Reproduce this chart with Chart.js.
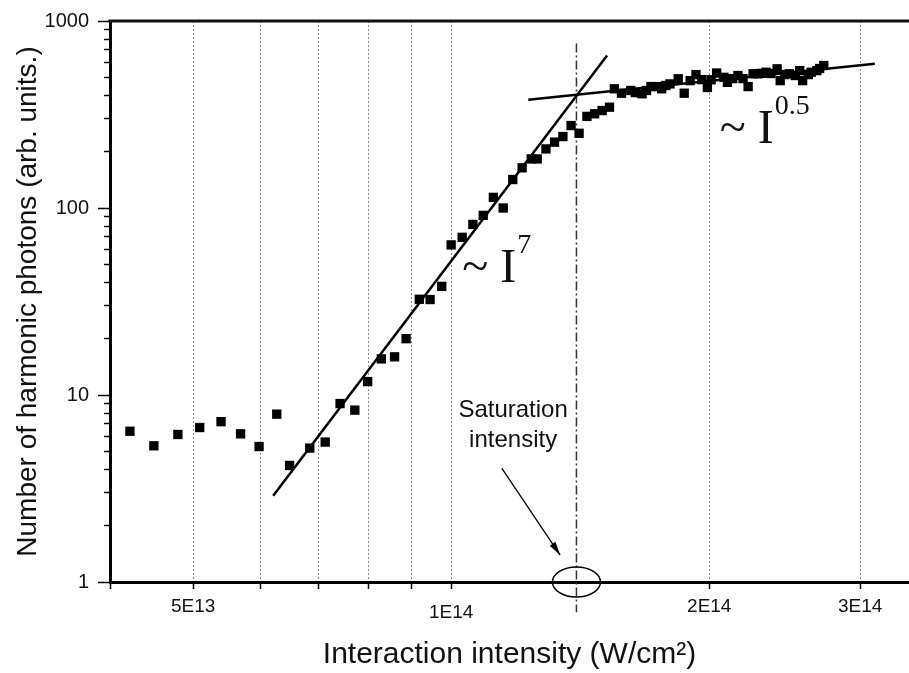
<!DOCTYPE html>
<html><head><meta charset="utf-8">
<script src="https://cdn.jsdelivr.net/npm/chart.js@4.4.1/dist/chart.umd.min.js"></script>
<style>html,body{margin:0;padding:0;background:#fff;overflow:hidden}</style>
</head><body>
<canvas id="c" width="909" height="673" style="display:block;width:909px;height:673px"></canvas>
<script>
// ---- data ----
const intensity = [4.22e13, 4.50e13, 4.80e13, 5.09e13, 5.39e13, 5.68e13, 5.97e13, 6.26e13, 6.48e13, 6.84e13,
  7.13e13, 7.42e13, 7.72e13, 7.99e13, 8.29e13, 8.59e13, 8.86e13, 9.18e13, 9.45e13, 9.75e13,
  1.00e14, 1.03e14, 1.06e14, 1.09e14, 1.12e14, 1.15e14, 1.18e14, 1.21e14, 1.24e14, 1.26e14,
  1.29e14, 1.32e14, 1.35e14, 1.38e14, 1.41e14, 1.44e14, 1.47e14, 1.50e14, 1.53e14, 1.55e14,
  1.58e14, 1.62e14, 1.64e14, 1.67e14, 1.69e14, 1.71e14, 1.74e14, 1.76e14, 1.78e14, 1.80e14,
  1.84e14, 1.87e14, 1.90e14, 1.93e14, 1.96e14, 1.99e14, 2.01e14, 2.04e14, 2.08e14, 2.10e14,
  2.13e14, 2.16e14, 2.19e14, 2.22e14, 2.25e14, 2.28e14, 2.30e14, 2.33e14, 2.36e14, 2.40e14,
  2.42e14, 2.45e14, 2.48e14, 2.52e14, 2.55e14, 2.57e14, 2.61e14, 2.63e14, 2.67e14, 2.69e14,
  2.72e14];
const photons = [6.4, 5.35, 6.15, 6.7, 7.2, 6.2, 5.3, 7.9, 4.2, 5.2,
  5.6, 9.0, 8.3, 11.8, 15.6, 16.0, 20.0, 32.5, 32.4, 38.1,
  63.5, 69.7, 81.7, 91.3, 114, 100, 142, 164, 183, 183,
  207, 225, 241, 276, 251, 309, 319, 332, 346, 434,
  411, 425, 414, 408, 425, 446, 446, 434, 452, 461,
  491, 411, 480, 517, 486, 441, 485, 527, 500, 470,
  492, 511, 492, 446, 522, 522, 525, 532, 524, 555,
  480, 517, 522, 511, 543, 480, 517, 532, 543, 557,
  578];

// power-law guide lines (~I^7 and ~I^0.5)
const fit7X = [6.20e13, 1.52e14];
const fit7Y = [2.89, 654];
const fit05X = [1.23e14, 3.12e14];
const fit05Y = [379, 590];

// saturation intensity marker
const satX = 1.4e14;
const satY = [757, 0.69];
const arrowFromX = 1.146e14, arrowFromY = 4.05;
const arrowToX = 1.340e14, arrowToY = 1.394;
const satLabelX = 1.181e14;
const satLabelY = [8.3, 5.74];
const satLabel = ['Saturation', 'intensity'];

// power-law labels (anchor = baseline-left of "I")
const law7At = [1.141e14, 40.1];
const law05At = [2.279e14, 224];

// axes
const xTickValues = [4e13, 5e13, 6e13, 7e13, 8e13, 9e13, 1e14, 2e14, 3e14];
const xTickLabels = {5e13: '5E13', 1e14: '1E14', 2e14: '2E14', 3e14: '3E14'};
const yMajorTicks = [1, 10, 100, 1000];
const yMinorTicks = [2,3,4,5,6,7,8,9,20,30,40,50,60,70,80,90,200,300,400,500,600,700,800,900];
const xTitle = 'Interaction intensity (W/cm²)';
const yTitle = 'Number of harmonic photons (arb. units.)';

const SANS = '"Liberation Sans", Arial, sans-serif';
const SERIF = '"Liberation Serif", "Times New Roman", serif';

const annot = {
  id: 'annot',
  afterDatasetsDraw(chart) {
    const {ctx, chartArea: ca, scales: {x, y}} = chart;
    ctx.save();
    // top frame line
    ctx.strokeStyle = '#111'; ctx.lineWidth = 3;
    ctx.beginPath(); ctx.moveTo(ca.left - 1.5, ca.top); ctx.lineTo(ca.right, ca.top); ctx.stroke();
    // ellipse around saturation intensity on the axis
    const ex = x.getPixelForValue(satX), ey = y.getPixelForValue(1);
    ctx.lineWidth = 1.5; ctx.strokeStyle = '#000';
    ctx.beginPath(); ctx.ellipse(ex, ey, 24, 15, 0, 0, Math.PI * 2); ctx.stroke();
    // arrow
    const ax0 = x.getPixelForValue(arrowFromX), ay0 = y.getPixelForValue(arrowFromY);
    const ax1 = x.getPixelForValue(arrowToX), ay1 = y.getPixelForValue(arrowToY);
    ctx.lineWidth = 1.3;
    ctx.beginPath(); ctx.moveTo(ax0, ay0); ctx.lineTo(ax1, ay1); ctx.stroke();
    const ang = Math.atan2(ay1 - ay0, ax1 - ax0);
    ctx.beginPath();
    ctx.moveTo(ax1, ay1);
    ctx.lineTo(ax1 - 14 * Math.cos(ang - 0.25), ay1 - 14 * Math.sin(ang - 0.25));
    ctx.lineTo(ax1 - 14 * Math.cos(ang + 0.25), ay1 - 14 * Math.sin(ang + 0.25));
    ctx.closePath(); ctx.fillStyle = '#000'; ctx.fill();
    // saturation label
    ctx.font = '24px ' + SANS; ctx.textAlign = 'center'; ctx.textBaseline = 'middle'; ctx.fillStyle = '#111';
    satLabel.forEach((t, i) => ctx.fillText(t, x.getPixelForValue(satLabelX), y.getPixelForValue(satLabelY[i])));
    // power laws
    const law = (at, sup) => {
      const px = x.getPixelForValue(at[0]), py = y.getPixelForValue(at[1]);
      ctx.textAlign = 'left'; ctx.textBaseline = 'alphabetic'; ctx.fillStyle = '#111';
      ctx.font = '48px ' + SERIF;
      ctx.fillText('~', px - 38, py);
      ctx.fillText('I', px, py);
      ctx.font = '28px ' + SERIF;
      ctx.fillText(sup, px + 17, py - 29);
    };
    law(law7At, '7');
    law(law05At, '0.5');
    ctx.restore();
  }
};

new Chart(document.getElementById('c'), {
  type: 'scatter',
  data: {
    datasets: [
      { label: 'data', data: intensity.map((v, i) => ({x: v, y: photons[i]})),
        pointStyle: 'rect', pointRadius: 6.6, pointHoverRadius: 6.6, backgroundColor: '#000',
        borderWidth: 0, showLine: false, order: 0 },
      { label: 'I7', data: fit7X.map((v, i) => ({x: v, y: fit7Y[i]})), showLine: true,
        borderColor: '#000', borderWidth: 2.5, pointRadius: 0, order: 1 },
      { label: 'I05', data: fit05X.map((v, i) => ({x: v, y: fit05Y[i]})), showLine: true,
        borderColor: '#000', borderWidth: 2.5, pointRadius: 0, order: 1 },
      { label: 'sat', data: satY.map(v => ({x: satX, y: v})), showLine: true, clip: false,
        borderColor: '#333', borderWidth: 1.5, borderDash: [9, 3, 2, 3], pointRadius: 0, order: 2 }
    ]
  },
  options: {
    responsive: false, animation: false, devicePixelRatio: 1,
    layout: {autoPadding: false, padding: {top: 20, right: 0, left: 0, bottom: 0}},
    plugins: {legend: {display: false}, tooltip: {enabled: false}},
    scales: {
      x: {
        type: 'logarithmic', position: 'bottom', min: 4e13, max: 3.42e14,
        afterBuildTicks: s => { s.ticks = xTickValues.map(v => ({value: v})); },
        afterFit: s => { s.height = 91; s.paddingLeft = 0; s.paddingRight = 0; },
        ticks: {
          autoSkip: false, maxRotation: 0, minRotation: 0, padding: 6, color: '#111',
          callback: v => v === 1e14 ? ['', xTickLabels[v]] : (xTickLabels[v] || ''),
          font: c => (c.tick && c.tick.value === 1e14) ? {size: 19, family: SANS, lineHeight: '12px'} : {size: 19, family: SANS}
        },
        grid: {
          color: c => (c.tick && c.tick.value > 4e13) ? '#8a8a8a' : 'rgba(0,0,0,0)',
          lineWidth: 1, tickLength: 7, tickColor: '#000', tickWidth: 1.5
        },
        border: {color: '#000', width: 3, dash: [2, 2]},
        title: {display: true, text: xTitle, color: '#111', font: {size: 30, family: SANS}, padding: {top: 0, bottom: 0}}
      },
      y: {
        type: 'logarithmic', position: 'left', min: 1, max: 1000, weight: 1,
        afterBuildTicks: s => { s.ticks = yMajorTicks.map(v => ({value: v})); },
        afterFit: s => { s.width = 110; },
        ticks: {padding: 9, color: '#111', font: {size: 20, family: SANS}, callback: v => String(v)},
        grid: {drawOnChartArea: false, tickLength: 12, tickColor: '#000', tickWidth: 1.5},
        border: {color: '#000', width: 3},
        title: {display: true, text: yTitle, color: '#111', font: {size: 28, family: SANS}, padding: {top: 11, bottom: 0}}
      },
      yMinor: {
        type: 'logarithmic', position: 'left', min: 1, max: 1000, weight: 0,
        afterBuildTicks: s => { s.ticks = yMinorTicks.map(v => ({value: v})); },
        afterFit: s => { s.width = 0; },
        ticks: {padding: 0, callback: () => '', font: {size: 1}},
        grid: {drawOnChartArea: false, tickLength: 6, tickColor: '#000', tickWidth: 1.5},
        border: {display: false}
      }
    }
  },
  plugins: [annot]
});
</script>
</body></html>
